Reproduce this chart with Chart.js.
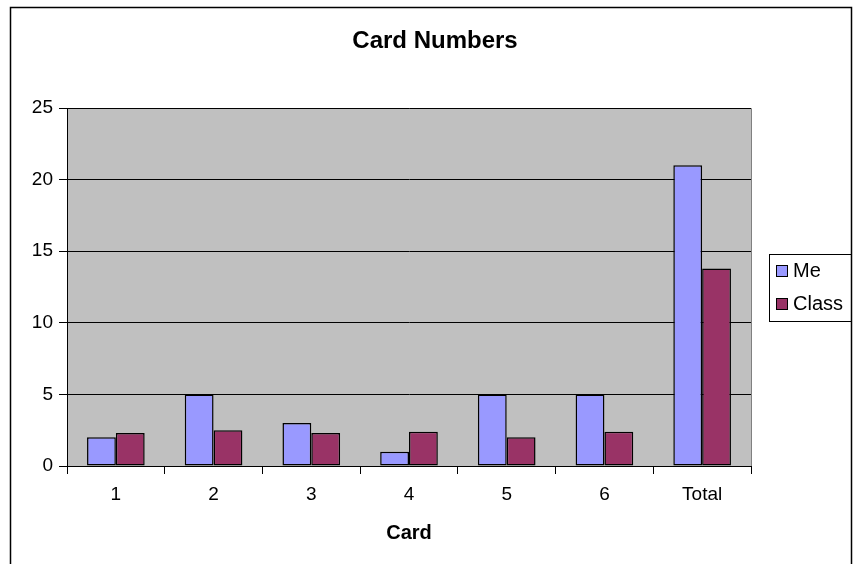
<!DOCTYPE html>
<html>
<head>
<meta charset="UTF-8">
<title>Card Numbers</title>
<script src="https://cdn.jsdelivr.net/npm/chart.js"></script>
<style>
  html, body { margin: 0; padding: 0; background: #fff; }
  #wrap { width: 858px; height: 564px; position: relative; }
</style>
</head>
<body>
<div id="wrap"><canvas id="cardChart"></canvas></div>
<script>
    // categories and values
    const cards = ['1', '2', '3', '4', '5', '6', 'Total'];
    const meValues = [2, 5, 3, 1, 5, 5, 21];
    const classValues = [2.3, 2.5, 2.3, 2.4, 2.0, 2.4, 13.8];
    const yTicks = [0, 5, 10, 15, 20, 25];
    const chartTitle = 'Card Numbers';

    const FONT = '"Liberation Sans", Arial, sans-serif';

    // grey plot area, outer frame, title and the boxed legend on the right
    const excelLook = {
        id: 'excelLook',
        beforeDraw(chart) {
            const c = chart.ctx, a = chart.chartArea;
            c.save();
            c.fillStyle = '#fff';
            c.fillRect(0, 0, chart.width, chart.height);
            c.strokeStyle = '#000';
            c.lineWidth = 1.5;
            c.strokeRect(10.5, 7.5, 841, 570);
            c.fillStyle = '#c0c0c0';
            c.fillRect(a.left, a.top, a.right - a.left, a.bottom - a.top);
            c.strokeStyle = '#808080';
            c.lineWidth = 1;
            c.beginPath();
            c.moveTo(a.left, a.top + 0.5);
            c.lineTo(a.right + 0.5, a.top + 0.5);
            c.lineTo(a.right + 0.5, a.bottom);
            c.stroke();
            c.restore();
        },
        afterDraw(chart) {
            const c = chart.ctx;
            c.save();
            // title
            c.fillStyle = '#000';
            c.font = 'bold 24px ' + FONT;
            c.textAlign = 'center';
            c.textBaseline = 'alphabetic';
            c.fillText(chartTitle, 435, 48);
            // legend
            c.textAlign = 'left';
            c.strokeStyle = '#000';
            c.lineWidth = 1;
            c.strokeRect(769.5, 254.5, 82, 67);
            c.font = '20px ' + FONT;
            c.textBaseline = 'middle';
            chart.data.datasets.forEach((ds, i) => {
                const y = 271 + i * 33;
                c.fillStyle = ds.backgroundColor;
                c.fillRect(776, y - 6, 12, 12);
                c.strokeRect(776.5, y - 5.5, 11, 11);
                c.fillStyle = '#000';
                c.fillText(ds.label, 793, y);
            });
            c.restore();
        }
    };

    const ctx = document.getElementById('cardChart').getContext('2d');
    const cardChart = new Chart(ctx, {
        type: 'bar',
        data: {
            labels: cards,
            datasets: [{
                label: 'Me',
                data: meValues,
                backgroundColor: '#9999ff',
                borderColor: '#000',
                borderWidth: 1.5,
                borderSkipped: false
            }, {
                label: 'Class',
                data: classValues,
                backgroundColor: '#993366',
                borderColor: '#000',
                borderWidth: 1.5,
                borderSkipped: false
            }]
        },
        options: {
            responsive: true,
            maintainAspectRatio: false,
            animation: false,
            layout: { padding: { left: 10, right: 107, top: 108, bottom: 0 } },
            datasets: { bar: { categoryPercentage: 0.59, barPercentage: 1 } },
            plugins: {
                legend: { display: false },
                tooltip: { enabled: false },
                title: { display: false }
            },
            scales: {
                x: {
                    afterFit(scale) { scale.height = 98; },
                    grid: {
                        drawOnChartArea: false,
                        drawTicks: true,
                        tickLength: 8,
                        color: '#000',
                        offset: true
                    },
                    border: { color: '#000', width: 1 },
                    ticks: { color: '#000', font: { family: FONT, size: 19 }, padding: 9 },
                    title: {
                        display: true,
                        text: 'Card',
                        color: '#000',
                        font: { family: FONT, size: 20, weight: 'bold' },
                        padding: { top: 0, bottom: 19 }
                    }
                },
                y: {
                    min: 0,
                    max: 25,
                    afterBuildTicks(scale) {
                        scale.ticks = yTicks.map(v => ({ value: v }));
                    },
                    afterFit(scale) { scale.width = 57; },
                    grid: { color: '#000', tickLength: 8 },
                    border: { color: '#000', width: 1 },
                    ticks: { color: '#000', font: { family: FONT, size: 19 }, padding: 6 }
                }
            }
        },
        plugins: [excelLook]
    });
</script>
</body>
</html>
